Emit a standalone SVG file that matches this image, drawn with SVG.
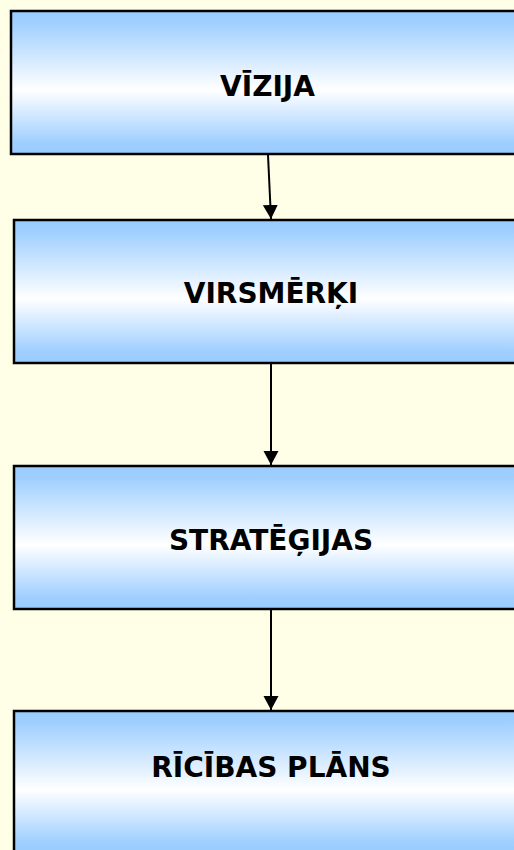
<svg xmlns="http://www.w3.org/2000/svg" width="514" height="850" viewBox="0 0 514 850">
<defs>
<linearGradient id="g" x1="0" y1="0" x2="0" y2="1">
<stop offset="0" stop-color="#99CCFF"/>
<stop offset="0.08" stop-color="#9FCFFF"/>
<stop offset="0.55" stop-color="#FFFFFF"/>
<stop offset="0.92" stop-color="#9FCFFF"/>
<stop offset="1" stop-color="#99CCFF"/>
</linearGradient>
<linearGradient id="g4" x1="0" y1="711" x2="0" y2="854" gradientUnits="userSpaceOnUse">
<stop offset="0" stop-color="#99CCFF"/>
<stop offset="0.08" stop-color="#9FCFFF"/>
<stop offset="0.55" stop-color="#FFFFFF"/>
<stop offset="0.92" stop-color="#9FCFFF"/>
<stop offset="1" stop-color="#99CCFF"/>
</linearGradient>
<marker id="ah" markerWidth="14" markerHeight="16" refX="14" refY="8" orient="auto" markerUnits="userSpaceOnUse">
<path d="M0,0.5 L14,8 L0,15.5 Z" fill="#000"/>
</marker>
<style>
.box{stroke:#000;stroke-width:2.5;}
.lbl{font-family:"DejaVu Sans",Verdana,sans-serif;font-weight:bold;font-size:28px;fill:#000;text-anchor:middle;}
.con{stroke:#000;stroke-width:2;fill:none;}
</style>
</defs>
<rect width="514" height="850" fill="#FFFFE8"/>
<g id="node-vizija">
<rect class="box" x="11" y="11" width="520" height="143" fill="url(#g)"/>
<text class="lbl" x="267.5" y="96">VĪZIJA</text>
</g>
<g id="node-virsmerki">
<rect class="box" x="14" y="220" width="520" height="143" fill="url(#g)"/>
<text class="lbl" x="271" y="303">VIRSMĒRĶI</text>
</g>
<g id="node-strategijas">
<rect class="box" x="14" y="466" width="520" height="143" fill="url(#g)"/>
<text class="lbl" x="271" y="550">STRATĒĢIJAS</text>
</g>
<g id="node-ricibas">
<rect class="box" x="14" y="711" width="520" height="200" fill="url(#g4)"/>
<text class="lbl" x="271" y="777">RĪCĪBAS PLĀNS</text>
</g>
<g id="connectors">
<line class="con" x1="268" y1="155" x2="271" y2="219" marker-end="url(#ah)"/>
<line class="con" x1="271" y1="364" x2="271" y2="465" marker-end="url(#ah)"/>
<line class="con" x1="271" y1="610" x2="271" y2="710" marker-end="url(#ah)"/>
</g>
</svg>
